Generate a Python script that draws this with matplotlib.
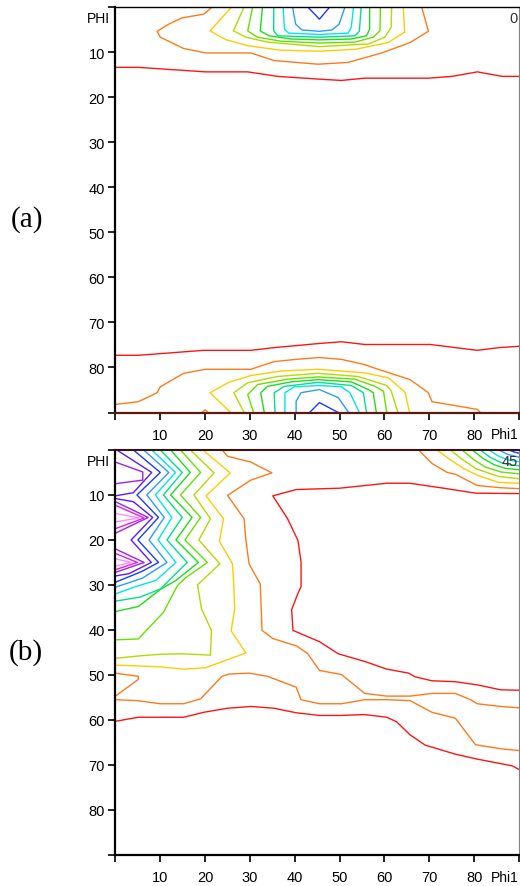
import matplotlib.pyplot as plt

plt.rcParams['font.family'] = ['Liberation Sans', 'DejaVu Sans']

# contour level colours, level 1 (lowest) .. 14 (highest)
level_colors = ['#FF1414', '#FF7A1A', '#FFCC00', '#B0DC00', '#66E000', '#1EDC1E', '#00E08C',
                '#00E6E6', '#2A9DFF', '#1A3CFF', '#5A1AFF', '#A020F0', '#E020F0', '#FF8CFF']

tick_vals = [0, 10, 20, 30, 40, 50, 60, 70, 80, 90]
tick_labels = ['', '10', '20', '30', '40', '50', '60', '70', '80', '']

# ---- section (a), phi2 = 0 : contour lines as (Phi1, PHI) points ----
a_top_red = ([0, 5.1, 20.1, 29.5, 36.2, 45.2, 50.4, 55.6, 69.8, 75.1, 80.7, 86.3, 90],
             [13.4, 13.4, 14.4, 14.4, 15.4, 16.0, 16.3, 15.8, 15.8, 15.4, 14.4, 15.4, 15.4])
a_top_orange = ([21.6, 19.7, 14.9, 11.9, 9.3, 10.0, 15.2, 20.1, 30.2, 35.4, 45.2, 51.9, 59.4, 65.7, 69.8, 68.3],
                [0, 1.6, 2.4, 3.8, 5.4, 6.7, 9.2, 10.2, 10.2, 11.9, 12.7, 12.3, 10.2, 7.9, 5.4, 0])
a_top_gold = ([25.9, 21.1, 24.5, 29.5, 37.0, 45.5, 53.5, 60.8, 64.5, 64.2],
              [0, 5.3, 7.2, 8.6, 9.6, 9.8, 9.4, 7.9, 5.6, 0])
a_top_yg = ([28.7, 26.3, 29.1, 33.9, 45.5, 56.4, 60.1, 61.5, 61.6],
            [0, 5.3, 6.7, 7.8, 8.8, 8.2, 6.7, 4.5, 0])
a_top_chart = ([30.6, 29.5, 31.7, 36.9, 45.5, 53.4, 57.5, 59.0, 59.1],
               [0, 5.3, 6.7, 7.6, 8.0, 7.8, 6.7, 5.3, 0])
a_top_green = ([32.8, 32.3, 34.3, 39.2, 45.5, 52.6, 56.0, 56.7, 56.7],
               [0, 5.3, 6.4, 7.1, 7.3, 7.1, 6.4, 4.9, 0])
a_top_spring = ([35.3, 35.3, 36.2, 45.5, 53.4, 54.4, 54.8],
                [0, 5.3, 6.4, 6.7, 6.4, 5.4, 0])
a_top_cyan = ([37.4, 37.7, 38.6, 45.5, 51.9, 52.6, 53.1],
              [0, 4.9, 5.8, 6.1, 5.8, 4.5, 0])
a_top_lblue = ([39.5, 40.2, 41.6, 45.5, 48.3, 49.9, 51.2],
               [0, 3.8, 5.1, 5.4, 5.1, 3.8, 0])
a_top_blue = ([42.9, 45.5, 47.8], [0, 2.7, 0])

a_bot_red = ([0, 5.1, 19.7, 30.2, 35.4, 45.2, 50.4, 55.6, 70.2, 80.7, 85.5, 90],
             [77.3, 77.3, 76.2, 76.2, 75.6, 74.7, 74.3, 74.9, 74.9, 76.2, 75.6, 75.3])
a_bot_orange = ([0, 5.1, 9.3, 10.0, 15.2, 20.1, 30.2, 35.4, 40.3, 45.5, 50.4, 55.3, 58.6, 65.7, 69.8, 70.6, 80.7, 81.4],
                [88.2, 87.6, 85.6, 84.3, 81.3, 80.4, 80.4, 78.7, 78.2, 77.8, 78.2, 79.3, 80.4, 82.7, 85.6, 87.6, 89.3, 90])
a_bot_orange_dot = ([19.3, 20.0, 20.7], [90, 89.4, 90])
a_bot_gold = ([25.7, 21.1, 25.3, 30.2, 36.9, 45.2, 55.6, 60.9, 64.6, 65.6],
              [90, 85.6, 83.3, 81.8, 80.8, 80.4, 81.2, 82.3, 85.5, 90])
a_bot_yg = ([28.7, 26.4, 29.5, 36.2, 45.2, 54.1, 60.5, 61.5, 63.0],
            [90, 85.6, 83.4, 82.0, 81.3, 82.0, 84.0, 85.2, 90])
a_bot_chart = ([30.8, 29.5, 31.7, 38.4, 45.2, 53.4, 57.9, 59.8, 60.5],
               [90, 86.0, 83.8, 82.6, 82.1, 82.6, 84.2, 85.3, 90])
a_bot_green = ([33.2, 32.4, 33.9, 39.2, 45.2, 52.6, 56.4, 57.5, 58.2],
               [90, 85.6, 84.2, 83.2, 82.7, 83.2, 84.9, 85.6, 90])
a_bot_spring = ([35.6, 35.4, 37.7, 45.2, 52.6, 55.3, 56.0],
                [90, 85.6, 84.2, 83.3, 84.0, 85.6, 90])
a_bot_cyan = ([37.8, 37.8, 39.9, 45.5, 50.4, 52.3, 54.4],
              [90, 85.6, 84.3, 84.0, 84.3, 85.6, 90])
a_bot_lblue = ([40.3, 40.3, 41.4, 45.5, 49.7, 52.0],
               [90, 87.5, 85.6, 84.9, 86.7, 90])
a_bot_blue = ([43.3, 45.5, 49.7], [90, 87.8, 90])

# ---- section (b), phi2 = 45 ----
b_red_upper = ([90, 80.3, 73.2, 65.7, 60.5, 50.0, 40.3, 35.1, 38.4, 40.7, 41.4, 41.4, 40.7, 39.3, 39.6,
                45.5, 49.7, 55.6, 60.5, 65.4, 66.8, 70.6, 75.8, 80.7, 85.9, 90],
               [9.7, 9.6, 8.5, 7.4, 7.4, 8.5, 8.8, 10.2, 15.3, 20.1, 24.9, 30.4, 31.9, 35.5, 40.1,
                42.6, 45.3, 47.0, 48.7, 49.6, 50.4, 51.3, 51.5, 52.2, 53.3, 53.4])
b_red_lower = ([0, 5.1, 15.2, 19.7, 25.0, 30.2, 35.4, 40.3, 45.5, 50.4, 55.6, 60.5, 62.7, 65.7, 69.1,
                75.8, 80.7, 88.5, 90],
               [60.3, 59.4, 59.4, 58.3, 57.4, 57.0, 57.4, 58.4, 59.0, 59.0, 58.8, 59.4, 60.4, 63.3, 65.6,
                67.6, 68.7, 70.2, 71.0])
b_orange_upper = ([23.8, 25.0, 30.2, 34.9, 30.2, 25.0, 28.7, 29.1, 29.8, 32.3, 32.5, 32.7, 35.1, 40.5,
                   42.9, 45.5, 50.4, 55.6, 60.5, 65.7, 70.6, 75.8, 79.2, 80.7, 85.9, 90],
                  [0, 1.4, 2.7, 5.1, 6.7, 10.1, 15.3, 20.1, 25.3, 29.8, 35.0, 40.1, 41.9, 43.6,
                   45.3, 49.0, 49.9, 54.1, 54.7, 54.7, 54.1, 54.1, 55.5, 56.4, 57.0, 57.3])
b_orange_lower = ([0, 4.8, 10.0, 15.2, 19.0, 23.8, 25.3, 29.8, 33.9, 40.3, 41.4, 45.5, 50.4, 55.6, 60.5,
                   65.7, 70.6, 75.8, 80.3, 85.9, 90],
                  [55.5, 55.7, 56.4, 56.4, 55.3, 50.3, 49.8, 49.6, 50.3, 52.7, 55.5, 56.4, 56.4, 55.5, 55.5,
                   55.7, 58.3, 59.6, 65.5, 66.4, 66.8])
b_orange_edge = ([0, 5.1, 5.1, 0], [49.6, 50.3, 51.0, 54.7])
b_gold = ([19.5, 25.6, 20.2, 24.1, 23.2, 26.1, 26.4, 26.6, 25.8, 29.1, 20.1, 15.1, 10.0, 5.0, 0],
          [0, 5.1, 10.2, 15.3, 20.3, 25.3, 30.0, 35.3, 40.2, 45.1, 48.4, 48.7, 48.2, 48.0, 47.8])
b_yg = ([16.7, 22.0, 17.5, 21.2, 18.6, 23.3, 18.3, 19.2, 21.4, 21.2, 15.0, 10.0, 5.0, 0],
        [0, 5.1, 10.0, 15.3, 20.0, 25.3, 30.0, 35.3, 40.1, 45.6, 45.3, 45.4, 45.8, 46.3])
b_chart = ([14.5, 19.0, 14.5, 19.0, 15.5, 20.5, 15.5, 13.8, 10.7, 5.1, 0],
           [0, 5.0, 10.0, 15.0, 20.0, 25.0, 28.5, 30.2, 36.1, 42.0, 42.2])
b_green = ([12.3, 16.7, 12.3, 17.1, 13.5, 18.5, 13.5, 10.0, 5.1, 0],
           [0, 5.0, 10.0, 15.0, 20.0, 25.0, 29.0, 31.0, 34.8, 35.9])
b_spring = ([10.0, 14.9, 10.7, 14.9, 11.5, 16.0, 10.0, 5.5, 0],
            [0, 5.0, 10.0, 15.0, 20.0, 25.0, 30.9, 32.7, 33.6])
b_cyan = ([8.1, 13.4, 8.9, 12.6, 9.5, 13.5, 9.0, 4.4, 0],
          [0, 5.0, 10.0, 15.0, 20.0, 25.0, 29.0, 30.4, 32.0])
b_lblue = ([6.3, 11.9, 7.0, 10.9, 7.5, 11.5, 6.0, 0],
           [0, 5.0, 10.0, 15.0, 20.0, 25.0, 28.5, 30.5])
b_blue = ([4.0, 10.0, 4.8, 9.6, 5.0, 9.6, 5.9, 0],
          [0, 5.0, 10.0, 15.0, 20.0, 25.0, 27.0, 29.4])
b_violet_top = ([0.3, 8.1, 4.0, 0], [0, 5.0, 9.5, 10.2])
b_violet_mid = ([0, 4.0, 8.3, 3.5, 8.0, 3.0, 0], [10.8, 11.5, 15.0, 20.0, 25.0, 27.5, 28.0])
b_purple_top = ([0, 6.1, 6.1, 0], [2.7, 4.9, 6.7, 7.5])
b_purple_15 = ([0, 7.3, 0], [11.5, 15.0, 18.5])
b_purple_25 = ([0, 6.4, 0], [22.0, 25.0, 27.2])
b_magenta_15 = ([0, 6.4, 0], [12.3, 15.1, 17.5])
b_magenta_25 = ([0, 4.9, 0], [23.0, 25.0, 26.6])
b_pink_15 = ([0, 5.3, 0], [14.1, 15.1, 16.0])
b_pink_25 = ([0, 3.5, 0], [24.2, 25.0, 25.8])

b_tr_orange = ([67.6, 70.6, 74.0, 75.8, 80.7, 85.9, 90], [0, 3.0, 5.0, 5.4, 7.9, 8.4, 8.6])
b_tr_gold = ([71.7, 75.0, 77.6, 80.7, 85.4, 90], [0, 2.4, 4.1, 5.6, 7.2, 7.4])
b_tr_yg = ([74.7, 77.5, 80.5, 85.5, 90], [0, 2.2, 4.2, 5.9, 6.4])
b_tr_chart = ([77.3, 80.0, 82.5, 86.0, 90], [0, 2.2, 3.8, 4.9, 5.3])
b_tr_green = ([79.6, 82.0, 84.5, 87.0, 90], [0, 1.9, 3.3, 4.1, 4.4])
b_tr_spring = ([81.4, 83.5, 86.0, 88.0, 90], [0, 1.6, 2.8, 3.3, 3.5])
b_tr_cyan = ([83.3, 85.3, 87.5, 90], [0, 1.3, 2.2, 2.6])
b_tr_lblue = ([85.5, 87.5, 90], [0, 1.0, 1.6])
b_tr_blue = ([87.8, 89.0, 90], [0, 0.5, 0.7])

lines_a = [(1, a_top_red), (2, a_top_orange), (3, a_top_gold), (4, a_top_yg), (5, a_top_chart),
           (6, a_top_green), (7, a_top_spring), (8, a_top_cyan), (9, a_top_lblue), (10, a_top_blue),
           (1, a_bot_red), (2, a_bot_orange), (2, a_bot_orange_dot), (3, a_bot_gold), (4, a_bot_yg),
           (5, a_bot_chart), (6, a_bot_green), (7, a_bot_spring), (8, a_bot_cyan), (9, a_bot_lblue),
           (10, a_bot_blue)]
lines_b = [(1, b_red_upper), (1, b_red_lower), (2, b_orange_upper), (2, b_orange_lower), (2, b_orange_edge),
           (3, b_gold), (4, b_yg), (5, b_chart), (6, b_green), (7, b_spring), (8, b_cyan), (9, b_lblue),
           (10, b_blue), (11, b_violet_top), (11, b_violet_mid), (12, b_purple_top), (12, b_purple_15),
           (12, b_purple_25), (13, b_magenta_15), (13, b_magenta_25), (14, b_pink_15), (14, b_pink_25),
           (2, b_tr_orange), (3, b_tr_gold), (4, b_tr_yg), (5, b_tr_chart), (6, b_tr_green),
           (7, b_tr_spring), (8, b_tr_cyan), (9, b_tr_lblue), (10, b_tr_blue)]


def draw_section(ax, lines, phi2_text, panel_label, label_y, top_col, top_lw, bottom_col):
    for level, (phi1, PHI) in lines:
        ax.plot(phi1, PHI, color=level_colors[level - 1], lw=1.0)
    ax.set_xlim(0, 90)
    ax.set_ylim(90, 0)
    ax.set_xticks(tick_vals)
    ax.set_xticklabels(tick_labels)
    ax.set_yticks(tick_vals)
    ax.set_yticklabels(tick_labels)
    ax.tick_params(direction='out', length=5, width=1.2, labelsize=10.5, colors='black')
    ax.tick_params(axis='x', pad=6)
    ax.tick_params(axis='y', pad=2.5)
    ax.spines['left'].set_linewidth(1.6)
    ax.spines['left'].set_color('black')
    ax.spines['bottom'].set_linewidth(1.6)
    ax.spines['bottom'].set_color(bottom_col)
    ax.spines['top'].set_linewidth(top_lw)
    ax.spines['top'].set_color(top_col)
    ax.spines['right'].set_linewidth(0.8)
    ax.spines['right'].set_color('#808080')
    ax.text(-1.3, 0.9, 'PHI', ha='right', va='top', fontsize=10)
    ax.text(90, 93.3, 'Phi1', ha='right', va='top', fontsize=10, clip_on=False)
    ax.text(89.7, 0.9, phi2_text, ha='right', va='top', fontsize=10.5, color='#333333')
    ax.text(-16.2, label_y, panel_label, ha='right', va='center', fontsize=21, family='Liberation Serif')


fig = plt.figure(figsize=(5.2, 8.87), dpi=100)
ax_a = fig.add_axes([0.222, 0.5338, 0.776, 0.4572])
ax_b = fig.add_axes([0.222, 0.0350, 0.776, 0.4566])

draw_section(ax_a, lines_a, '0', '(a)', 47.0, 'black', 1.0, '#5A1A0E')
draw_section(ax_b, lines_b, '45', '(b)', 44.7, '#3A1010', 1.5, 'black')

fig.savefig('out.png', dpi=100)
